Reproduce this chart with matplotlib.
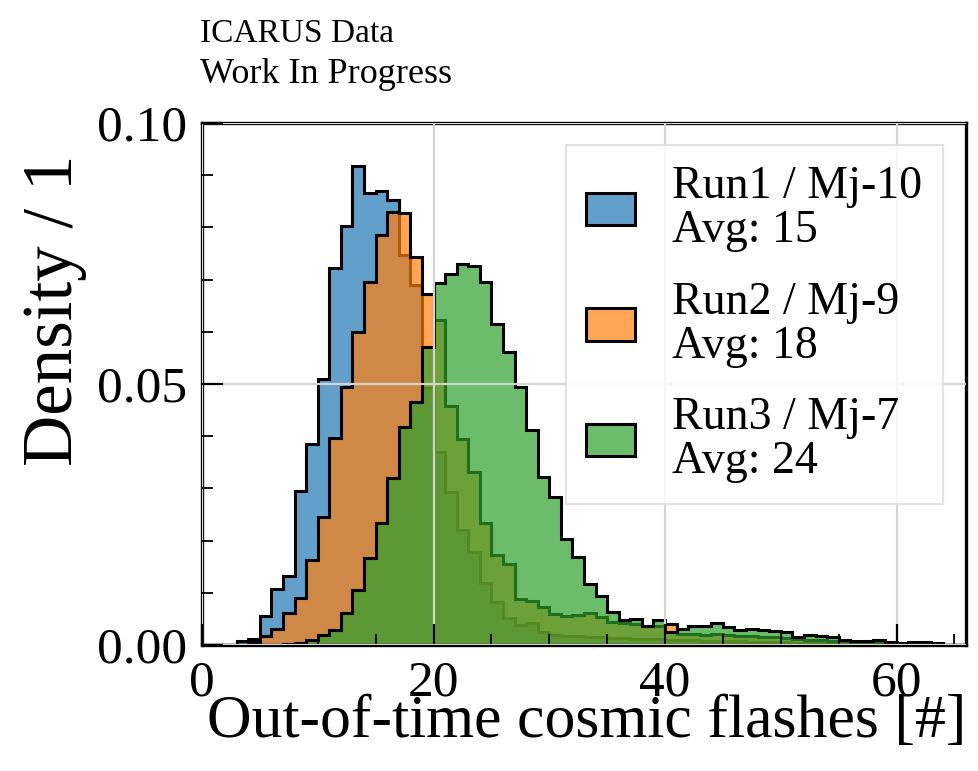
import numpy as np
import matplotlib
matplotlib.use("Agg")
import matplotlib.pyplot as plt
from matplotlib.ticker import MultipleLocator

plt.rcParams['font.family'] = ['Liberation Serif', 'DejaVu Serif']

bin_edges = np.arange(0, 67, 1)

run1 = [0, 0, 0, 0.0008, 0.0012, 0.0055, 0.0108, 0.0132, 0.0295, 0.0386,
        0.0510, 0.0723, 0.0803, 0.0918, 0.0866, 0.0870, 0.0852, 0.0747, 0.0690, 0.0492,
        0.0370, 0.0294, 0.0220, 0.0179, 0.0118, 0.0083, 0.0051, 0.0038, 0.0043, 0.0025,
        0.0020, 0.0018, 0.0017, 0.0016, 0.0015, 0.0014, 0.0013, 0.0012, 0.0012, 0.0011,
        0.0010, 0.0009, 0.0009, 0.0008, 0.0008, 0.0007, 0.0007, 0.0006, 0.0006, 0.0005,
        0.0005, 0.0004, 0.0004, 0.0003, 0.0003, 0.0002, 0.0002, 0.0002, 0.0001, 0.0001,
        0.0001, 0, 0, 0, 0, 0]

run2 = [0, 0, 0, 0, 0.0005, 0.0017, 0.0030, 0.0062, 0.0090, 0.0163,
        0.0245, 0.0396, 0.0494, 0.0600, 0.0696, 0.0785, 0.0830, 0.0827, 0.0743, 0.0672,
        0.0623, 0.0457, 0.0394, 0.0332, 0.0234, 0.0172, 0.0155, 0.0089, 0.0085, 0.0073,
        0.0059, 0.0056, 0.0057, 0.0061, 0.0054, 0.0045, 0.0043, 0.0040, 0.0036, 0.0036,
        0.0040, 0.0022, 0.0021, 0.0020, 0.0021, 0.0019, 0.0018, 0.0018, 0.0016, 0.0015,
        0.0014, 0.0012, 0.0010, 0.0009, 0.0008, 0.0007, 0.0005, 0.0004, 0.0003, 0.0002,
        0.0001, 0, 0, 0, 0, 0]

run3 = [0, 0, 0, 0, 0, 0, 0, 0.0002, 0.0004, 0.0010,
        0.0020, 0.0029, 0.0061, 0.0105, 0.0166, 0.0233, 0.0319, 0.0418, 0.0466, 0.0571,
        0.0693, 0.0711, 0.0730, 0.0726, 0.0696, 0.0615, 0.0562, 0.0495, 0.0412, 0.0322,
        0.0283, 0.0204, 0.0169, 0.0117, 0.0093, 0.0064, 0.0048, 0.0050, 0.0036, 0.0048,
        0.0024, 0.0031, 0.0036, 0.0036, 0.0043, 0.0035, 0.0029, 0.0031, 0.0029, 0.0027,
        0.0024, 0.0016, 0.0019, 0.0017, 0.0015, 0.0010, 0.0008, 0.0008, 0.0010, 0.0005,
        0.0004, 0.0006, 0.0006, 0.0004, 0, 0]

labels = ["Run1 / Mj-10\nAvg: 15", "Run2 / Mj-9\nAvg: 18", "Run3 / Mj-7\nAvg: 24"]
colors = ["#1f77b4", "#ff7f0e", "#2ca02c"]

fig = plt.figure(figsize=(9.79, 7.71), dpi=100)
ax = fig.add_axes([202/979, 1 - 645/771, (966-202)/979, (645-123)/771])

centers = bin_edges[:-1]
for vals, lab, col in zip([run1, run2, run3], labels, colors):
    rgba = matplotlib.colors.to_rgba(col, 0.7)
    ax.hist(centers, bins=bin_edges, weights=vals, histtype='stepfilled',
            facecolor=rgba, edgecolor='black', linewidth=2.2, label=lab)

ax.set_xlim(0, 66)
ax.set_ylim(0, 0.10)
ax.xaxis.set_major_locator(MultipleLocator(20))
ax.xaxis.set_minor_locator(MultipleLocator(5))
ax.yaxis.set_major_locator(MultipleLocator(0.05))
ax.yaxis.set_minor_locator(MultipleLocator(0.01))
ax.yaxis.set_major_formatter(matplotlib.ticker.FormatStrFormatter('%.2f'))

ax.set_axisbelow(False)
ax.grid(True, which='major', color='#d3d3d3', linewidth=1.6)

for sp in ax.spines.values():
    sp.set_linewidth(2.4)
ax.tick_params(which='both', direction='in', top=False, right=False)
ax.tick_params(which='major', length=15, width=1.6, labelsize=37, pad=11)
ax.tick_params(which='minor', length=8, width=1.3)

ax.set_xlabel("Out-of-time cosmic flashes [#]", fontsize=44.5, ha='right')
ax.xaxis.set_label_coords(1.0, -0.094)
ax.xaxis.label.set_va('top')
ax.set_ylabel("Density / 1", fontsize=51, ha='right')
ax.yaxis.set_label_coords(-0.150, 0.94)

leg = ax.legend(loc='upper right', bbox_to_anchor=(0.9695, 0.958), borderaxespad=0,
                fontsize=33, frameon=True, fancybox=False, framealpha=0.85,
                edgecolor='#dddddd', handlelength=1.07, handleheight=0.72,
                handletextpad=0.8, labelspacing=0.63, borderpad=0.45)
leg.get_frame().set_linewidth(1.5)
for t in leg.get_texts():
    t.set_linespacing(1.05)

fig.text(200/979, 1 - 42/771, "ICARUS Data", fontsize=24, ha='left', va='baseline')
fig.text(200/979, 1 - 83/771, "Work In Progress", fontsize=26, ha='left', va='baseline')

fig.savefig("out.png", dpi=100)
